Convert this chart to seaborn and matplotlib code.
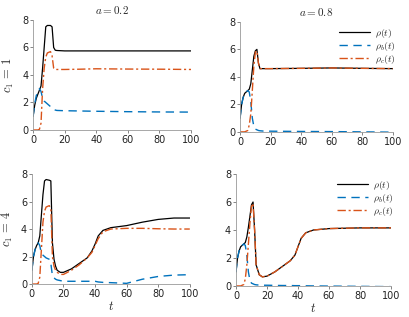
import matplotlib
matplotlib.use('Agg')
import matplotlib.pyplot as plt
import numpy as np
import pandas as pd
import seaborn as sns

sns.set_style('ticks')
plt.rcParams['font.family'] = ['DejaVu Sans']
plt.rcParams['mathtext.fontset'] = 'cm'

# a = 0.2, c1 = 1
t_tl = [0, 1, 2, 3, 4, 5, 6, 7, 8, 9, 11, 12, 13, 14, 15, 20, 30, 40, 60, 80, 100]
rho_tl = [1.0, 1.8, 2.3, 2.6, 2.9, 3.2, 4.5, 6.0, 7.5, 7.6, 7.6, 7.5, 6.0, 5.8, 5.78, 5.75, 5.75, 5.75, 5.75, 5.75, 5.75]
rhob_tl = [1.0, 1.9, 2.5, 2.8, 3.0, 2.8, 2.3, 2.1, 2.0, 1.9, 1.7, 1.6, 1.5, 1.45, 1.42, 1.4, 1.38, 1.36, 1.33, 1.31, 1.3]
rhoc_tl = [0.0, 0.0, 0.0, 0.0, 0.05, 0.5, 3.0, 4.5, 5.3, 5.6, 5.7, 5.4, 4.5, 4.4, 4.4, 4.4, 4.42, 4.45, 4.43, 4.42, 4.4]

# a = 0.8, c1 = 1
t_tr = [0, 1, 2, 3, 4, 5, 6, 7, 8, 9, 10, 11, 12, 13, 15, 20, 40, 60, 80, 100]
rho_tr = [1.0, 2.0, 2.5, 2.8, 2.9, 3.0, 3.1, 3.5, 4.5, 5.5, 5.9, 6.0, 5.0, 4.6, 4.6, 4.6, 4.62, 4.65, 4.62, 4.6]
rhob_tr = [1.0, 2.0, 2.5, 2.8, 2.9, 3.0, 2.9, 2.2, 1.0, 0.4, 0.2, 0.15, 0.1, 0.08, 0.06, 0.05, 0.03, 0.02, 0.0, -0.02]
rhoc_tr = [0.0, 0.0, 0.0, 0.0, 0.05, 0.1, 0.5, 1.3, 3.0, 4.8, 5.8, 5.9, 5.0, 4.6, 4.6, 4.6, 4.62, 4.65, 4.62, 4.6]

# a = 0.2, c1 = 4
t_bl = [0, 1, 2, 3, 4, 5, 6, 7, 8, 9, 11, 12, 13, 14, 15, 16, 18, 20, 25, 30, 35, 38, 40, 42, 45, 50, 60, 70, 80, 90, 100]
rho_bl = [1.0, 2.0, 2.5, 2.8, 3.0, 3.5, 5.0, 6.5, 7.5, 7.6, 7.55, 7.5, 3.0, 1.8, 1.3, 1.0, 0.85, 0.85, 1.1, 1.5, 1.9, 2.4, 2.9, 3.5, 3.9, 4.1, 4.25, 4.5, 4.7, 4.8, 4.8]
rhob_bl = [1.0, 2.0, 2.5, 2.8, 3.0, 2.8, 2.2, 2.1, 2.0, 1.9, 1.8, 1.5, 0.6, 0.45, 0.35, 0.3, 0.25, 0.2, 0.2, 0.2, 0.2, 0.2, 0.2, 0.15, 0.12, 0.1, 0.05, 0.35, 0.55, 0.65, 0.68]
rhoc_bl = [0.0, 0.0, 0.0, 0.0, 0.05, 0.5, 2.5, 4.5, 5.3, 5.6, 5.7, 5.5, 2.0, 1.3, 1.0, 0.85, 0.7, 0.7, 1.0, 1.4, 1.9, 2.3, 2.8, 3.3, 3.8, 4.0, 4.05, 4.05, 4.02, 4.0, 4.0]

# a = 0.8, c1 = 4
t_br = [0, 1, 2, 3, 4, 5, 6, 7, 8, 9, 10, 11, 12, 13, 15, 17, 20, 25, 30, 35, 38, 40, 42, 45, 50, 60, 80, 100]
rho_br = [1.0, 2.0, 2.5, 2.8, 2.9, 3.0, 3.1, 3.5, 4.2, 5.0, 5.8, 6.0, 4.0, 1.5, 0.8, 0.65, 0.7, 1.0, 1.4, 1.8, 2.2, 2.8, 3.4, 3.8, 4.0, 4.1, 4.15, 4.15]
rhob_br = [1.0, 2.0, 2.5, 2.8, 2.9, 3.0, 2.9, 2.2, 1.0, 0.4, 0.2, 0.15, 0.1, 0.08, 0.06, 0.05, 0.05, 0.04, 0.03, 0.03, 0.02, 0.02, 0.02, 0.01, 0.0, -0.01, -0.03, -0.05]
rhoc_br = [0.0, 0.0, 0.0, 0.0, 0.05, 0.1, 0.5, 1.5, 3.0, 4.5, 5.7, 5.9, 4.0, 1.5, 0.8, 0.65, 0.7, 1.0, 1.4, 1.8, 2.2, 2.8, 3.4, 3.8, 4.0, 4.1, 4.15, 4.15]

panels = [
    (t_tl, rho_tl, rhob_tl, rhoc_tl),
    (t_tr, rho_tr, rhob_tr, rhoc_tr),
    (t_bl, rho_bl, rhob_bl, rhoc_bl),
    (t_br, rho_br, rhob_br, rhoc_br),
]
titles = ['$a = 0.2$', '$a = 0.8$', None, None]
ylabels = ['$c_1\\,=\\,1$', None, '$c_1\\,=\\,4$', None]
labels = ['$\\rho(t)$', '$\\rho_b(t)$', '$\\rho_c(t)$']

# axes rectangles (left, bottom, width, height)
positions = [
    [0.081, 0.590, 0.386, 0.347],
    [0.587, 0.584, 0.374, 0.347],
    [0.078, 0.104, 0.386, 0.347],
    [0.577, 0.098, 0.379, 0.353],
]

fig = plt.figure(figsize=(4.09, 3.17), dpi=100)
black = '#000000'
blue = '#0072BD'
orange = '#D95319'

for i, (t, rho, rhob, rhoc) in enumerate(panels):
    ax = fig.add_axes(positions[i])
    sns.lineplot(x=t, y=rho, ax=ax, color=black, lw=0.9, label=labels[0])
    sns.lineplot(x=t, y=rhob, ax=ax, color=blue, lw=1.0, label=labels[1])
    ax.lines[-1].set_linestyle((0, (6, 4)))
    sns.lineplot(x=t, y=rhoc, ax=ax, color=orange, lw=1.0, label=labels[2])
    ax.lines[-1].set_linestyle((0, (6, 2, 1.5, 2)))
    ax.set_xlim(0, 100)
    ax.set_ylim(0, 8)
    ax.set_xticks([0, 20, 40, 60, 80, 100])
    ax.set_yticks([0, 2, 4, 6, 8])
    ax.tick_params(labelsize=7, length=2, width=0.5, colors='#555555', labelcolor='#222222', pad=1.5)
    sns.despine(ax=ax)
    for s in ['left', 'bottom']:
        ax.spines[s].set_color('#999999')
        ax.spines[s].set_linewidth(0.6)
    ax.set_xlabel('$t$' if i >= 2 else '', fontsize=9, labelpad=1)
    ax.set_ylabel(ylabels[i] if ylabels[i] else '', fontsize=9, labelpad=4)
    if titles[i]:
        ax.set_title(titles[i], fontsize=8, pad=4)
    if i in (1, 3):
        ax.legend(loc='upper right', bbox_to_anchor=(1.05, 1.0), frameon=False, fontsize=7,
                  handlelength=3.2, handletextpad=0.5, labelspacing=0.0, borderaxespad=0.1)
    else:
        ax.get_legend().remove()

fig.savefig('out.png', dpi=100)
